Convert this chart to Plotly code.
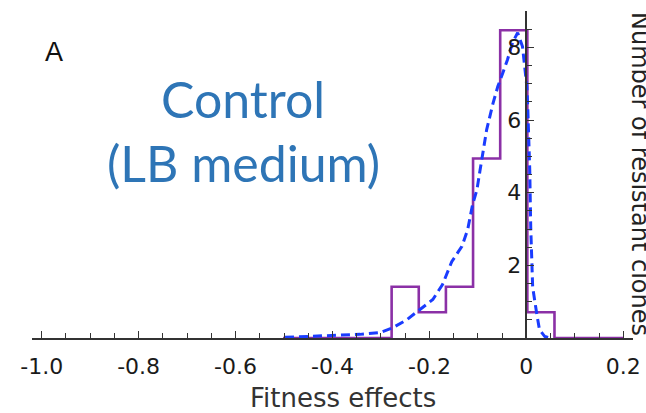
import plotly.graph_objects as go

# ---------------- data ----------------
bin_edges = [-0.502, -0.278, -0.222, -0.166, -0.110, -0.054, 0.002, 0.058, 0.200]
bin_heights = [0.0, 1.41, 0.71, 1.41, 4.94, 8.47, 0.71, 0.0]

kde_x = [-0.498, -0.405, -0.343, -0.302, -0.276, -0.247, -0.220, -0.193, -0.173,
         -0.154, -0.133, -0.121, -0.111, -0.102, -0.096, -0.088, -0.082, -0.069,
         -0.059, -0.049, -0.039, -0.028, -0.018, -0.008, 0.001, 0.003, 0.007,
         0.009, 0.013, 0.021, 0.027, 0.038, 0.048]
kde_y = [0.02, 0.06, 0.10, 0.15, 0.28, 0.50, 0.78, 1.06, 1.47,
         2.10, 2.52, 2.99, 3.67, 4.08, 4.58, 5.24, 5.73, 6.45,
         6.92, 7.28, 7.66, 8.15, 8.40, 8.02, 6.92, 6.28, 4.62,
         3.05, 1.40, 0.70, 0.23, 0.04, 0.0]

x_tick_vals = [-1.0, -0.8, -0.6, -0.4, -0.2, 0.0, 0.2]
x_tick_text = ["-1.0", "-0.8", "-0.6", "-0.4", "-0.2", "0", "0.2"]
y_tick_vals = [2, 4, 6, 8]
y_tick_text = ["2", "4", "6", "8"]

panel_label = "A"
condition_lines = ["Control", "(LB medium)"]
x_title = "Fitness effects"
y_title = "Number of resistant clones"

# ---------------- layout geometry ----------------
W, H = 646, 413
L, R, T, B = 32, 13, 11, 75
x_range = [-1.02, 0.22]
y_range = [0, 9]


def px_to_paper(px, py):
    return (px - L) / (W - L - R), (H - B - py) / (H - T - B)


hist_y = bin_heights + [bin_heights[-1]]

fig = go.Figure()
fig.add_trace(go.Scatter(
    x=bin_edges, y=hist_y, mode="lines", line_shape="hv",
    line=dict(color="#8B30A6", width=2.6), hoverinfo="skip", showlegend=False,
))
fig.add_trace(go.Scatter(
    x=kde_x, y=kde_y, mode="lines",
    line=dict(color="#1A3CFF", width=3, dash="9px,5px"), hoverinfo="skip",
    showlegend=False,
))

tick_font = dict(family="DejaVu Sans", size=22, color="#1a1a1a")

fig.update_layout(
    template="none",
    width=W, height=H,
    margin=dict(l=L, r=R, t=T, b=B, pad=0, autoexpand=False),
    paper_bgcolor="white", plot_bgcolor="white",
    xaxis=dict(
        range=x_range, showgrid=False, zeroline=False, automargin=False,
        showline=True, linecolor="#333333", linewidth=1.6,
        tickmode="array", tickvals=x_tick_vals, ticktext=x_tick_text,
        ticks="inside", ticklen=7, tickwidth=1.3, tickcolor="#333333",
        minor=dict(dtick=0.05, tick0=0, ticks="inside", ticklen=5,
                   tickwidth=1.3, tickcolor="#333333"),
        tickfont=tick_font, ticklabelstandoff=8, fixedrange=True,
    ),
    yaxis=dict(
        range=y_range, showgrid=False, zeroline=False, automargin=False,
        anchor="free", position=(0 - x_range[0]) / (x_range[1] - x_range[0]),
        side="left",
        showline=True, linecolor="#333333", linewidth=1.6,
        tickmode="array", tickvals=y_tick_vals, ticktext=y_tick_text,
        ticks="inside", ticklen=7, tickwidth=1.3, tickcolor="#333333",
        minor=dict(dtick=0.5, tick0=0, ticks="inside", ticklen=5,
                   tickwidth=1.3, tickcolor="#333333"),
        tickfont=tick_font, fixedrange=True,
    ),
)

annots = []
ax, ay = px_to_paper(54, 52)
annots.append(dict(text=panel_label, x=ax, y=ay, xref="paper", yref="paper",
                   showarrow=False, xanchor="center", yanchor="middle",
                   font=dict(family="Liberation Sans", size=27, color="#111111")))
for line, cy in zip(condition_lines, [99, 163]):
    cx_, cy_ = px_to_paper(243, cy)
    annots.append(dict(text=line, x=cx_, y=cy_, xref="paper", yref="paper",
                       showarrow=False, xanchor="center", yanchor="middle",
                       font=dict(family="Lato", size=50, color="#2E75B6")))
tx, ty = px_to_paper(343, 398)
annots.append(dict(text=x_title, x=tx, y=ty, xref="paper", yref="paper",
                   showarrow=False, xanchor="center", yanchor="middle",
                   font=dict(family="DejaVu Sans", size=26, color="#333333")))
yx, yy = px_to_paper(624, 174)
annots.append(dict(text=y_title, x=yx, y=yy, xref="paper", yref="paper",
                   showarrow=False, xanchor="left", yanchor="middle", textangle=90,
                   font=dict(family="DejaVu Sans", size=24, color="#222222")))
fig.update_layout(annotations=annots)

fig.write_html("out.html", config=dict(displayModeBar=False))
